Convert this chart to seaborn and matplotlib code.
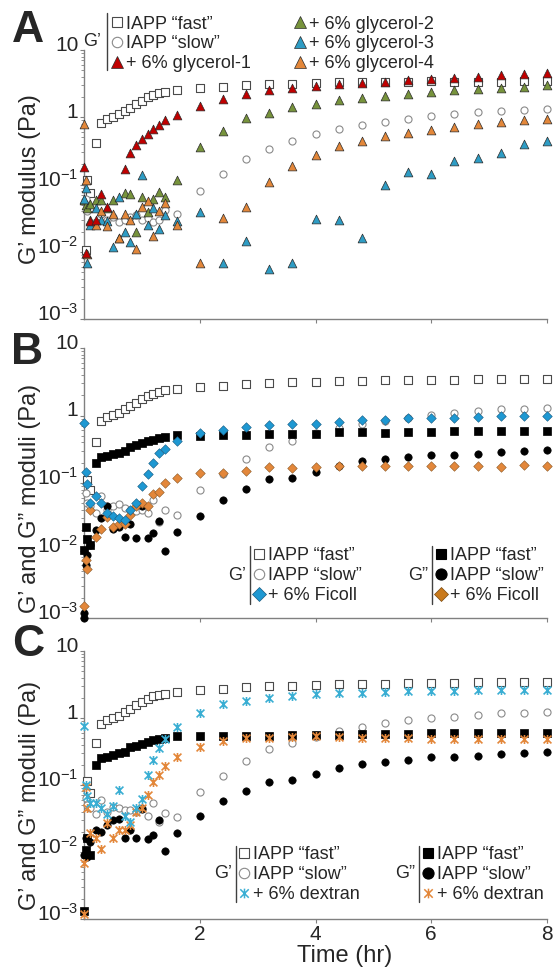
import numpy as np
import pandas as pd
import matplotlib
matplotlib.use("Agg")
import matplotlib.pyplot as plt
import seaborn as sns
from matplotlib.lines import Line2D
from matplotlib.path import Path
from matplotlib import transforms as mtransforms
from matplotlib.ticker import LogLocator, FixedLocator, FixedFormatter, NullFormatter

sns.set_theme(style="ticks")
plt.rcParams["font.family"] = ["Liberation Sans", "DejaVu Sans"]
plt.rcParams["mathtext.fontset"] = "custom"
plt.rcParams["mathtext.rm"] = "Liberation Sans"
plt.rcParams["mathtext.it"] = "Liberation Sans:italic"
plt.rcParams["mathtext.bf"] = "Liberation Sans:bold"

nan = np.nan
# time grid (hr); first two entries both at t = 0
time_hr = [0, 0, 0.03, 0.06, 0.1, 0.2, 0.3, 0.4, 0.5, 0.6, 0.7, 0.8, 0.9, 1.0, 1.1, 1.2, 1.3, 1.4,
           1.6, 2.0, 2.4, 2.8, 3.2, 3.6, 4.0, 4.4, 4.8, 5.2, 5.6, 6.0, 6.4, 6.8, 7.2, 7.6, 8.0]

# ---- Panel A : G' ----
A_fast = [nan, nan, 0.0105, 0.115, 0.074, 0.42, 0.83, 0.95, 1.02, 1.11, 1.25, 1.39, 1.57, 1.76, 1.98, 2.14, 2.27, 2.37,
          2.54, 2.75, 2.85, 3.0, 3.1, 3.1, 3.2, 3.3, 3.35, 3.35, 3.4, 3.45, 3.4, 3.4, 3.4, 3.45, 3.45]
A_slow = [nan, nan, 0.06, 0.04, 0.045, 0.028, 0.036, 0.03, 0.033, 0.028, 0.03, 0.033, 0.035, 0.03, 0.032, 0.028, 0.030, 0.042,
          0.036, 0.08, 0.143, 0.237, 0.34, 0.44, 0.56, 0.68, 0.78, 0.85, 0.95, 1.05, 1.12, 1.18, 1.24, 1.28, 1.33]
A_gly1 = [nan, 0.18, 0.0095, nan, 0.029, 0.03, 0.072, 0.047, nan, nan, 0.17, 0.29, 0.39, 0.48, 0.57, 0.68, 0.78, 0.9,
          1.07, 1.46, 1.9, 2.2, 2.5, 2.7, 2.9, 3.1, 3.25, 3.4, 3.6, 3.7, 3.8, 4.0, 4.2, 4.4, 4.5]
A_gly2 = [nan, 0.058, 0.05, 0.045, 0.051, 0.058, 0.058, 0.045, 0.058, 0.016, 0.074, 0.072, 0.02, 0.066, 0.039, 0.06, 0.077, 0.065,
          0.117, 0.36, 0.62, 0.96, 1.16, 1.43, 1.56, 1.79, 1.94, 2.08, 2.2, 2.36, 2.54, 2.6, 2.7, 2.8, 3.05]
A_gly3 = [nan, 0.06, 0.09, 0.0069, 0.025, 0.045, 0.03, 0.029, 0.0116, 0.065, 0.02, 0.014, 0.037, 0.14, 0.025, 0.045, 0.022, 0.035,
          0.029, 0.039, 0.0069, 0.0146, 0.0056, 0.0069, 0.031, 0.030, 0.016, 0.097, 0.152, 0.145, 0.22, 0.25, 0.29, 0.40, 0.44]
A_gly4 = [nan, 0.79, 0.115, 0.0093, 0.03, 0.025, 0.041, 0.024, 0.037, 0.016, 0.037, 0.03, 0.011, 0.046, 0.056, 0.017, 0.041, 0.053,
          0.025, 0.0069, 0.032, 0.046, 0.108, 0.19, 0.27, 0.37, 0.45, 0.52, 0.59, 0.64, 0.72, 0.79, 0.85, 0.92, 0.95]

# ---- Panel B : G' and G'' with Ficoll ----
B_fast = [nan, nan, nan, 0.11, 0.08, 0.41, 0.83, 0.95, 1.02, 1.1, 1.25, 1.4, 1.55, 1.75, 1.95, 2.1, 2.25, 2.35,
          2.45, 2.65, 2.75, 2.9, 3.0, 3.1, 3.15, 3.2, 3.3, 3.33, 3.33, 3.4, 3.4, 3.45, 3.48, 3.48, 3.5]
B_slow = [nan, nan, 0.07, 0.05, 0.045, 0.036, 0.064, 0.04, 0.046, 0.049, 0.042, 0.04, 0.038, 0.04, 0.036, 0.056, 0.026, 0.04,
          0.034, 0.079, 0.135, 0.226, 0.34, 0.42, 0.55, 0.66, 0.76, 0.83, 0.93, 1.03, 1.1, 1.17, 1.23, 1.25, 1.3]
B_ficoll_G1 = [nan, 0.78, 0.144, 0.098, 0.05, 0.064, 0.05, 0.036, 0.032, 0.030, 0.028, 0.04, 0.05, 0.091, 0.136, 0.195, 0.275, 0.315,
               0.42, 0.55, 0.62, 0.68, 0.72, 0.74, 0.76, 0.81, 0.85, 0.87, 0.92, 0.92, 0.93, 0.95, 0.98, 0.98, 0.98]
B_fast_G2 = [nan, 0.0102, 0.022, 0.015, 0.012, 0.196, 0.245, 0.25, 0.27, 0.28, 0.30, 0.34, 0.36, 0.39, 0.42, 0.44, 0.46, 0.48,
             0.51, 0.50, 0.51, 0.52, 0.53, 0.54, 0.54, 0.56, 0.56, 0.55, 0.57, 0.57, 0.59, 0.59, 0.59, 0.59, 0.59]
B_slow_G2 = [0.001, 0.0012, 0.006, 0.0087, 0.012, 0.02, 0.03, 0.045, 0.021, 0.022, 0.016, 0.025, 0.0155, 0.045, 0.0155, 0.018, 0.027, 0.010,
             0.0185, 0.033, 0.056, 0.081, 0.113, 0.117, 0.147, 0.18, 0.21, 0.227, 0.24, 0.26, 0.26, 0.27, 0.29, 0.30, 0.31]
B_ficoll_G2 = [nan, 0.0015, 0.0073, 0.0053, 0.04, 0.016, 0.021, 0.031, 0.022, 0.025, 0.025, 0.034, 0.046, 0.05, 0.045, 0.069, 0.074, 0.1,
               0.12, 0.139, 0.142, 0.15, 0.17, 0.165, 0.17, 0.18, 0.18, 0.18, 0.18, 0.18, 0.18, 0.176, 0.175, 0.185, 0.18]

# ---- Panel C : G' and G'' with dextran ----
C_fast = [nan, nan, nan, 0.116, 0.077, 0.43, 0.8, 0.92, 1.0, 1.08, 1.22, 1.38, 1.55, 1.75, 1.95, 2.1, 2.22, 2.32,
          2.45, 2.65, 2.75, 2.9, 3.0, 3.05, 3.1, 3.2, 3.25, 3.25, 3.3, 3.35, 3.35, 3.4, 3.4, 3.45, 3.45]
C_slow = [nan, nan, 0.065, 0.05, 0.045, 0.037, 0.06, 0.04, 0.047, 0.045, 0.043, 0.043, 0.04, 0.045, 0.035, 0.054, 0.028, 0.038,
          0.033, 0.079, 0.135, 0.226, 0.34, 0.42, 0.52, 0.64, 0.74, 0.83, 0.92, 1.0, 1.05, 1.1, 1.17, 1.2, 1.25]
C_dextran_G1 = [nan, 0.75, 0.10, 0.068, 0.054, 0.054, 0.045, 0.037, 0.048, 0.083, 0.034, 0.028, 0.045, 0.062, 0.142, 0.24, 0.36, 0.49,
                0.73, 1.2, 1.6, 1.8, 2.0, 2.15, 2.25, 2.35, 2.4, 2.48, 2.5, 2.52, 2.55, 2.6, 2.6, 2.6, 2.62]
C_fast_G2 = [nan, 0.0013, 0.0107, 0.016, 0.0089, 0.2, 0.25, 0.265, 0.28, 0.30, 0.315, 0.365, 0.38, 0.41, 0.44, 0.47, 0.48, 0.5,
             0.53, 0.53, 0.54, 0.54, 0.53, 0.55, 0.55, 0.56, 0.58, 0.58, 0.58, 0.6, 0.6, 0.6, 0.6, 0.6, 0.6]
C_slow_G2 = [nan, 0.0091, 0.016, 0.0085, 0.014, 0.021, 0.02, 0.025, 0.03, 0.031, 0.016, 0.021, 0.016, 0.044, 0.0155, 0.018, 0.03, 0.0105,
             0.019, 0.034, 0.058, 0.082, 0.112, 0.118, 0.148, 0.18, 0.204, 0.22, 0.24, 0.26, 0.26, 0.27, 0.29, 0.30, 0.31]
C_dextran_G2 = [0.0012, 0.0068, 0.094, 0.045, 0.019, 0.016, 0.011, 0.027, 0.016, 0.021, 0.021, 0.025, 0.04, 0.045, 0.071, 0.11, 0.142, 0.19,
                0.26, 0.37, 0.45, 0.5, 0.5, 0.52, 0.53, 0.52, 0.5, 0.5, 0.5, 0.49, 0.49, 0.49, 0.49, 0.49, 0.48]

ytick_vals = [1e-3, 1e-2, 1e-1, 1, 10]
ytick_labels = [r"$\mathregular{10^{-3}}$", r"$\mathregular{10^{-2}}$", r"$\mathregular{10^{-1}}$", "1", "10"]
xtick_vals = [2, 4, 6, 8]
xtick_labels = ["2", "4", "6", "8"]

# colours
RED = "#C00000"
GREEN = "#77933C"
BLUE_T = "#2E9CC4"
ORANGE = "#E3873A"
BLUE_D = "#1E98D2"
BLUE_X = "#3AAED3"
SQ_EDGE = "#4a4a4a"
CI_EDGE = "#8a8a8a"
AXIS_GRAY = "#808080"

STAR = Path([(-1, -1), (1, 1), (-1, 1), (1, -1), (0, -1.15), (0, 1.15)],
            [Path.MOVETO, Path.LINETO, Path.MOVETO, Path.LINETO, Path.MOVETO, Path.LINETO])

W, H = 554, 967
fig = plt.figure(figsize=(W / 100, H / 100), dpi=100)

def px_axes(left, right, top, bottom):
    return fig.add_axes([left / W, 1 - bottom / H, (right - left) / W, (bottom - top) / H])

axA = px_axes(84, 547, 50, 319)
axB = px_axes(84, 547, 348, 618)
axC = px_axes(84, 547, 651, 919)

def pts(v):
    return pd.DataFrame({"t": time_hr, "g": v}).dropna()

def scat(ax, v, marker, s, face, edge, lw=0.6):
    d = pts(v)
    sns.scatterplot(data=d, x="t", y="g", ax=ax, marker=marker, s=s, color=face,
                    edgecolor=edge, linewidth=lw, clip_on=False, zorder=3, legend=False)

# Panel A
scat(axA, A_fast, "s", 28, "white", SQ_EDGE, 0.8)
scat(axA, A_slow, "o", 26, "white", CI_EDGE, 0.8)
scat(axA, A_gly2, "^", 40, GREEN, "#2a2a2a", 0.5)
scat(axA, A_gly3, "^", 40, BLUE_T, "#2a2a2a", 0.5)
scat(axA, A_gly4, "^", 40, ORANGE, "#2a2a2a", 0.5)
scat(axA, A_gly1, "^", 40, RED, "#2a2a2a", 0.5)

# Panel B
scat(axB, B_fast, "s", 28, "white", SQ_EDGE, 0.8)
scat(axB, B_slow, "o", 26, "white", CI_EDGE, 0.8)
scat(axB, B_fast_G2, "s", 28, "black", "black", 0.5)
scat(axB, B_slow_G2, "o", 28, "black", "black", 0.5)
scat(axB, B_ficoll_G2, "D", 24, ORANGE, "#8a5a2a", 0.4)
scat(axB, B_ficoll_G1, "D", 24, BLUE_D, "#1a5a80", 0.4)

# Panel C
scat(axC, C_fast, "s", 28, "white", SQ_EDGE, 0.8)
scat(axC, C_slow, "o", 26, "white", CI_EDGE, 0.8)
scat(axC, C_fast_G2, "s", 28, "black", "black", 0.5)
scat(axC, C_slow_G2, "o", 28, "black", "black", 0.5)
scat(axC, C_dextran_G2, STAR, 42, ORANGE, ORANGE, 1.2)
scat(axC, C_dextran_G1, STAR, 42, BLUE_X, BLUE_X, 1.2)

label_offset = mtransforms.ScaledTranslation(0, 5 / 72, fig.dpi_scale_trans)
for ax in (axA, axB, axC):
    ax.set_yscale("log")
    ax.set_ylim(1e-3, 10)
    ax.set_xlim(0, 8)
    for sp in ("top", "right"):
        ax.spines[sp].set_visible(False)
    for sp in ("left", "bottom"):
        ax.spines[sp].set_color(AXIS_GRAY)
        ax.spines[sp].set_linewidth(1.0)
    ax.yaxis.set_major_locator(FixedLocator(ytick_vals))
    ax.yaxis.set_major_formatter(FixedFormatter(ytick_labels))
    ax.yaxis.set_minor_locator(LogLocator(base=10, subs=np.arange(2, 10), numticks=20))
    ax.yaxis.set_minor_formatter(NullFormatter())
    ax.tick_params(axis="y", which="major", length=3, width=0.8, color=AXIS_GRAY, pad=1, labelsize=15)
    ax.tick_params(axis="y", which="minor", length=2, width=0.6, color=AXIS_GRAY)
    ax.set_xticks(xtick_vals)
    ax.tick_params(axis="x", which="major", length=3, width=0.8, color=AXIS_GRAY, pad=1.2, labelsize=15)
    ax.set_xlabel("")
    ax.set_ylabel("")
    for lab in ax.get_yticklabels():
        lab.set_transform(lab.get_transform() + label_offset)

axA.set_xticklabels([])
axB.set_xticklabels([])
axC.set_xticklabels(xtick_labels)

axA.set_ylabel("G’ modulus (Pa)", fontsize=17, va="center")
axA.yaxis.set_label_coords((30 - 84) / 463, (319 - 179) / 269)
axB.set_ylabel("G’ and G” moduli (Pa)", fontsize=17, va="center")
axB.yaxis.set_label_coords((30 - 84) / 463, (618 - 498) / 270)
axC.set_ylabel("G’ and G” moduli (Pa)", fontsize=17, va="center")
axC.yaxis.set_label_coords((30 - 84) / 463, (919 - 795) / 268)
axC.set_xlabel("Time (hr)", fontsize=17, va="center")
axC.xaxis.set_label_coords((345 - 84) / 463, (919 - 956) / 268)

# panel letters
for letter, (x, y) in zip("ABC", [(28, 30), (27, 352), (28, 645)]):
    fig.text(x / W, 1 - y / H, letter, fontsize=32, fontweight="bold", ha="center", va="center")

# legends
FS = 13
FS_PX = FS * 100 / 72

def mk(marker, face, edge, size=7, mew=0.8):
    return Line2D([], [], linestyle="none", marker=marker, markersize=size,
                  markerfacecolor=face, markeredgecolor=edge, markeredgewidth=mew)

def add_leg(handles, labels, x_marker, y_mid):
    hl = 0.5
    x0 = x_marker - hl * FS_PX / 2
    fig.legend(handles, labels, loc="center left", bbox_to_anchor=(x0 / W, 1 - y_mid / H),
               bbox_transform=fig.transFigure, frameon=False, fontsize=FS, handlelength=hl,
               handletextpad=0.25, labelspacing=0.16, borderpad=0, borderaxespad=0,
               handleheight=0.7)

def bar(x, y1, y2, glabel, gx):
    fig.add_artist(Line2D([x / W, x / W], [1 - y1 / H, 1 - y2 / H], transform=fig.transFigure,
                          color="#404040", linewidth=1.0))
    fig.text(gx / W, 1 - (y1 + y2) / 2 / H, glabel, fontsize=FS, ha="right", va="center")

h_fast = mk("s", "white", SQ_EDGE, 7.5)
h_slow = mk("o", "white", CI_EDGE, 7.5)
h_fastG2 = mk("s", "black", "black", 7.5)
h_slowG2 = mk("o", "black", "black", 8)

# A legend
bar(107, 13, 70, "G’", 101)
add_leg([h_fast, h_slow, mk("^", RED, "#2a2a2a", 8.5, 0.5)],
        ["IAPP “fast”", "IAPP “slow”", "+ 6% glycerol-1"], 117, 44)
add_leg([mk("^", GREEN, "#2a2a2a", 8.5, 0.5), mk("^", BLUE_T, "#2a2a2a", 8.5, 0.5), mk("^", ORANGE, "#2a2a2a", 8.5, 0.5)],
        ["+ 6% glycerol-2", "+ 6% glycerol-3", "+ 6% glycerol-4"], 300, 44)

# B legend
bar(250, 546, 604, "G’", 246)
add_leg([h_fast, h_slow, mk("D", BLUE_D, "#1a5a80", 7.5, 0.5)],
        ["IAPP “fast”", "IAPP “slow”", "+ 6% Ficoll"], 258.5, 575.5)
bar(432, 546, 604, "G”", 428)
add_leg([h_fastG2, h_slowG2, mk("D", "#C97A1C", "#7a4a10", 7.5, 0.5)],
        ["IAPP “fast”", "IAPP “slow”", "+ 6% Ficoll"], 441, 575.5)

# C legend
bar(235.5, 846, 902, "G’", 232)
add_leg([h_fast, h_slow, mk(STAR, BLUE_X, BLUE_X, 7, 1.1)],
        ["IAPP “fast”", "IAPP “slow”", "+ 6% dextran"], 244, 874.5)
bar(419, 846, 902, "G”", 415)
add_leg([h_fastG2, h_slowG2, mk(STAR, ORANGE, ORANGE, 7, 1.1)],
        ["IAPP “fast”", "IAPP “slow”", "+ 6% dextran"], 427.5, 874.5)

fig.savefig("out.png", dpi=100)
